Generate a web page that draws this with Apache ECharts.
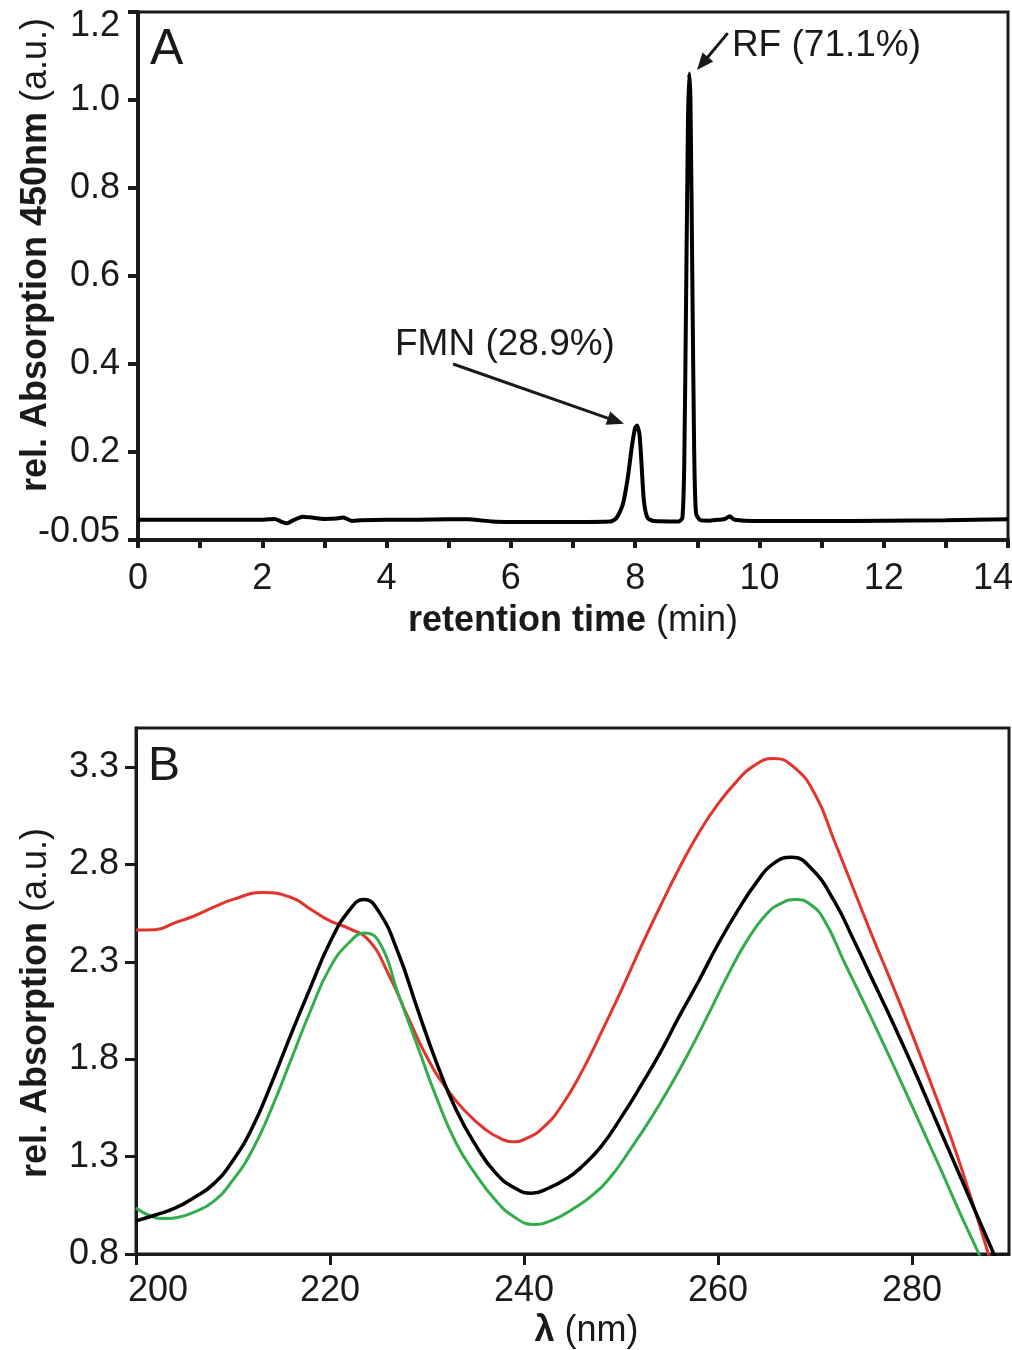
<!DOCTYPE html>
<html><head><meta charset="utf-8">
<script src="https://cdn.jsdelivr.net/npm/echarts@6/dist/echarts.min.js"></script>
<style>html,body{margin:0;padding:0;background:#fff}#c{width:1012px;height:1350px}</style>
</head><body><div id="c"></div>
<script>
// ---- Panel A: HPLC chromatogram ----
const timeA = [0,0.5,1.0,1.5,2.0,2.2,2.3,2.4,2.5,2.65,2.8,3.0,3.2,3.3,3.45,3.6,4.0,4.5,5.0,5.3,5.7,6.0,7.0,7.6,7.7,7.8,7.88,7.95,8.0,8.03,8.07,8.1,8.14,8.2,8.3,8.7,8.76,8.79,8.82,8.85,8.87,8.89,8.92,8.95,8.98,9.05,9.2,9.35,9.45,9.52,9.6,10,11,12,13,14];
const absA  = [0.046,0.046,0.046,0.046,0.046,0.048,0.042,0.038,0.045,0.053,0.051,0.048,0.049,0.051,0.043,0.045,0.046,0.046,0.047,0.047,0.042,0.041,0.041,0.042,0.05,0.08,0.14,0.215,0.255,0.26,0.24,0.18,0.09,0.05,0.043,0.042,0.05,0.17,0.55,0.95,1.06,1.0,0.6,0.2,0.06,0.045,0.044,0.046,0.048,0.054,0.046,0.043,0.043,0.044,0.045,0.047];
const yTicksA = [0,0.2,0.4,0.6,0.8,1.0,1.2];
const yTickLabelsA = ['-0.05','0.2','0.4','0.6','0.8','1.0','1.2'];
const xTicksA = [0,1,2,3,4,5,6,7,8,9,10,11,12,13,14];
const xLabelsA = [0,2,4,6,8,10,12,14];
const peakLabels = ['FMN (28.9%)','RF (71.1%)'];

// ---- Panel B: UV spectra (wavelength, absorption) ----
const wlBlack  = [200,202,204,206,208,210,212,214,216,218,220,222,223.5,225,227,229,231,233,235,237,239,240.8,242.6,244.5,246,248,250,252,254,256,258,260,262,264,265.6,267.6,269.6,272,274,276,278,280,282,284,286,288,290];
const absBlack = [0.97,1.00,1.035,1.09,1.16,1.28,1.45,1.68,1.93,2.17,2.40,2.565,2.62,2.56,2.35,2.06,1.78,1.54,1.36,1.22,1.14,1.112,1.14,1.19,1.25,1.355,1.50,1.66,1.83,2.02,2.20,2.39,2.56,2.71,2.80,2.836,2.78,2.61,2.41,2.20,1.99,1.77,1.54,1.31,1.08,0.85,0.62];
const wlRed    = [200,202,204,206,208,210,213,216,218,220,222,224,226,228,230,232,234,236,237.5,238.8,240.1,242,244,246,248,250,252,254,256,258,260,262,263.6,265.7,267.8,270,272,274,276,278,280,282,284,286,288,290];
const absRed   = [2.463,2.465,2.50,2.535,2.58,2.62,2.655,2.63,2.57,2.51,2.47,2.41,2.24,2.02,1.81,1.65,1.53,1.44,1.395,1.376,1.39,1.45,1.57,1.74,1.94,2.15,2.37,2.58,2.78,2.96,3.11,3.23,3.303,3.343,3.30,3.16,2.92,2.67,2.42,2.18,1.93,1.67,1.40,1.10,0.78,0.45];
const wlGreen  = [200,201.5,203,204.5,206,208,210,212,214,216,218,220,222,223.6,225.2,227,229,231,233,235,237,239,241,243,245,247,249,251,253,255,257,259,261,263,265,266.5,268,269.5,271,273,275,277,279,281,283,285,287,289];
const absGreen = [1.036,0.995,0.982,0.99,1.015,1.07,1.18,1.334,1.55,1.80,2.05,2.27,2.40,2.448,2.39,2.14,1.87,1.60,1.37,1.21,1.08,0.99,0.952,0.975,1.03,1.10,1.20,1.34,1.49,1.655,1.835,2.03,2.23,2.41,2.545,2.60,2.62,2.595,2.51,2.30,2.095,1.885,1.67,1.45,1.23,1.005,0.79,0.57];
const xTicksB = [200,220,240,260,280];
const yTicksB = [0.8,1.3,1.8,2.3,2.8,3.3];

const FONT = 'Liberation Sans, Arial, sans-serif';
const INK = '#1a1a1a';
const LBL = 36;

const chart = echarts.init(document.getElementById('c'), null, {renderer:'canvas'});
function zip(a,b){return a.map((v,i)=>[v,b[i]]);}
function rs(extra){return Object.assign({fontSize:LBL,fontFamily:FONT,color:INK},extra||{});}
const nameRich = {b:{fontWeight:'bold',fontSize:36,fontFamily:FONT,color:INK}, n:{fontSize:36,fontFamily:FONT,color:INK}};

const option = {
  backgroundColor:'#fff',
  animation:false,
  grid:[
    {left:138, top:12, width:870, height:528, show:true, borderColor:INK, borderWidth:3, backgroundColor:'transparent', outerBoundsMode:'none', containLabel:false},
    {left:136, top:728, width:873, height:526, show:true, borderColor:INK, borderWidth:3, backgroundColor:'transparent', outerBoundsMode:'none', containLabel:false}
  ],
  xAxis:[
    {gridIndex:0, type:'value', min:0, max:14, interval:1,
     axisLine:{lineStyle:{color:INK,width:4}},
     axisTick:{customValues:xTicksA, length:8, lineStyle:{color:INK,width:4}},
     axisLabel:{customValues:xLabelsA, color:INK, fontSize:LBL, fontFamily:FONT, margin:21,
       formatter:v=> v===14 ? '{e|14}' : String(v), rich:{e:rs({padding:[0,30,0,0]})}},
     splitLine:{show:false},
     name:'{b|retention time }{n|(min)}', nameLocation:'middle', nameGap:63, nameMoveOverlap:false,
     nameTextStyle:{color:INK, rich:nameRich}
    },
    {gridIndex:1, type:'value', min:200, max:290,
     axisLine:{lineStyle:{color:INK,width:3}},
     axisTick:{customValues:xTicksB, length:11, lineStyle:{color:INK,width:3}},
     axisLabel:{customValues:xTicksB, color:INK, fontSize:LBL, fontFamily:FONT, margin:19,
       formatter:v=> v===200 ? '{f|200}' : String(v), rich:{f:rs({padding:[0,0,0,44]})}},
     splitLine:{show:false},
     name:'{b|λ }{n|(nm)}', nameLocation:'middle', nameGap:59, nameMoveOverlap:false,
     nameTextStyle:{color:INK, rich:nameRich, padding:[0,0,0,28]}
    }
  ],
  yAxis:[
    {gridIndex:0, type:'value', min:0, max:1.2,
     axisLine:{lineStyle:{color:INK,width:4}},
     axisTick:{customValues:yTicksA, length:10, lineStyle:{color:INK,width:4}},
     axisLabel:{customValues:yTicksA, color:INK, fontSize:LBL, fontFamily:FONT, margin:18,
       formatter:function(v){
         const i = yTicksA.indexOf(v); const s = i>=0 ? yTickLabelsA[i] : '';
         if (v===1.2) return '{t|'+s+'}';
         if (v===0) return '{d|'+s+'}';
         return s;
       },
       rich:{t:rs({padding:[28,0,0,0]}), d:rs({padding:[0,0,16,0]})}
     },
     splitLine:{show:false},
     name:'{b|rel. Absorption 450nm }{n|(a.u.)}', nameLocation:'middle', nameGap:84, nameMoveOverlap:false,
     nameTextStyle:{color:INK, rich:nameRich, padding:[0,0,0,42]}
    },
    {gridIndex:1, type:'value', min:0.8, max:3.5,
     axisLine:{lineStyle:{color:INK,width:3}},
     axisTick:{customValues:yTicksB, length:11, lineStyle:{color:INK,width:3}},
     axisLabel:{customValues:yTicksB, color:INK, fontSize:LBL, fontFamily:FONT, margin:17, formatter:v=>v.toFixed(1)},
     splitLine:{show:false},
     name:'{b|rel. Absorption }{n|(a.u.)}', nameLocation:'middle', nameGap:82, nameMoveOverlap:false,
     nameTextStyle:{color:INK, rich:nameRich, padding:[0,24,0,0]}
    }
  ],
  series:[
    {type:'line', xAxisIndex:0, yAxisIndex:0, data:zip(timeA,absA), showSymbol:false, smooth:0.2,
     lineStyle:{color:'#000',width:4}, clip:true},
    {type:'line', xAxisIndex:1, yAxisIndex:1, data:zip(wlRed,absRed), showSymbol:false, smooth:0.5,
     lineStyle:{color:'#e2342d',width:3}, clip:true, z:2},
    {type:'line', xAxisIndex:1, yAxisIndex:1, data:zip(wlGreen,absGreen), showSymbol:false, smooth:0.5,
     lineStyle:{color:'#31ad4c',width:3}, clip:true, z:3},
    {type:'line', xAxisIndex:1, yAxisIndex:1, data:zip(wlBlack,absBlack), showSymbol:false, smooth:0.5,
     lineStyle:{color:'#000',width:3.5}, clip:true, z:4}
  ]
};
chart.setOption(option);

function px(x,y,g){return chart.convertToPixel({gridIndex:g},[x,y]);}
function arrow(p0,p1){
  const dx=p1[0]-p0[0], dy=p1[1]-p0[1]; const L=Math.hypot(dx,dy); const ux=dx/L, uy=dy/L;
  const hl=17, hw=7;
  const bx=p1[0]-ux*hl, by=p1[1]-uy*hl;
  return [
    {type:'line', shape:{x1:p0[0],y1:p0[1],x2:bx+ux*2,y2:by+uy*2}, style:{stroke:INK,lineWidth:3}},
    {type:'polygon', shape:{points:[[p1[0],p1[1]],[bx-uy*hw,by+ux*hw],[bx+uy*hw,by-ux*hw]]}, style:{fill:INK}}
  ];
}
const fmnText = px(5.905,0.443,0), fmnA0=px(5.07,0.40,0), fmnA1=px(7.82,0.264,0);
const rfText = px(9.557,1.123,0), rfA0=px(9.49,1.152,0), rfA1=px(8.995,1.068,0);
const gA = px(0,1.2,0);
const gB = px(200,3.5,1);
const graphics = [
  {type:'text', x:gA[0]+12, y:gA[1]+38, style:{text:'A', font:'50px '+FONT, fill:INK, textVerticalAlign:'middle'}},
  {type:'text', x:gB[0]+12, y:gB[1]+39, style:{text:'B', font:'48px '+FONT, fill:INK, textVerticalAlign:'middle'}},
  {type:'text', x:fmnText[0], y:fmnText[1], style:{text:peakLabels[0], font:'37px '+FONT, fill:INK, textAlign:'center', textVerticalAlign:'middle'}},
  {type:'text', x:rfText[0], y:rfText[1], style:{text:peakLabels[1], font:'37px '+FONT, fill:INK, textAlign:'left', textVerticalAlign:'middle'}}
].concat(arrow(fmnA0,fmnA1), arrow(rfA0,rfA1));
chart.setOption({graphic:graphics});
</script></body></html>
